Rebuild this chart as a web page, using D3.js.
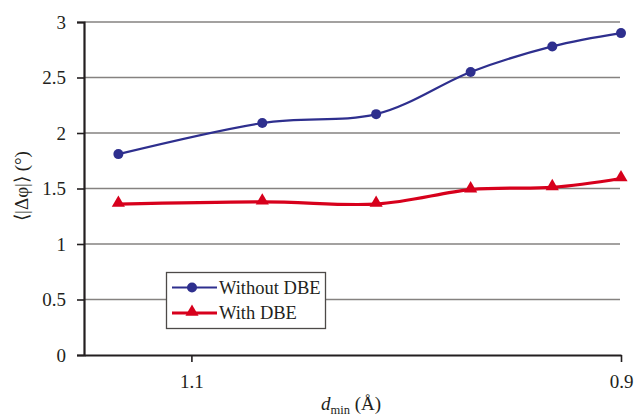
<!DOCTYPE html>
<html>
<head>
<meta charset="utf-8">
<script src="https://cdn.jsdelivr.net/npm/d3@7/dist/d3.min.js"></script>
<style>
  html, body { margin: 0; padding: 0; background: #fff; }
  svg { display: block; }
</style>
</head>
<body>
<svg id="chart" width="637" height="420"></svg>
<script>
// ---- data ----
const dMin = [1.134, 1.067, 1.014, 0.970, 0.932, 0.900];
const withoutDBE = [1.81, 2.09, 2.17, 2.55, 2.78, 2.90];
const withDBE = [1.36, 1.38, 1.36, 1.49, 1.51, 1.59];
const yTicks = [0, 0.5, 1, 1.5, 2, 2.5, 3];
const xTicks = [1.1, 0.9];
const seriesNames = ["Without DBE", "With DBE"];

// ---- layout ----
const FONT = "'Liberation Serif', 'Times New Roman', serif";
const svg = d3.select("#chart");
const plotL = 84, plotR = 621, plotT = 22, plotB = 355;

const x = d3.scaleLinear().domain([1.15, 0.9]).range([plotL, plotR]);
const y = d3.scaleLinear().domain([0, 3]).range([plotB, plotT]);

// gridlines
svg.append("g").selectAll("line").data(yTicks.filter(d => d > 0)).join("line")
  .attr("x1", plotL).attr("x2", plotR - 1)
  .attr("y1", d => y(d)).attr("y2", d => y(d))
  .attr("stroke", "#858280").attr("stroke-width", 1.4);

// y axis
const yAxis = d3.axisLeft(y).tickValues(yTicks).tickSize(7).tickPadding(11)
  .tickFormat(d => String(d));
const gy = svg.append("g").attr("transform", `translate(${plotL},0)`).call(yAxis);
gy.attr("font-family", null);
gy.select(".domain").attr("stroke", "#231f20").attr("stroke-width", 2.2);
gy.selectAll(".tick line").attr("stroke", "#231f20").attr("stroke-width", 1.6);
gy.selectAll(".tick text").style("font-size", "19px").style("fill", "#231f20")
  .style("font-family", FONT).attr("dy", "0.34em");

// x axis
const xAxis = d3.axisBottom(x).tickValues(xTicks).tickSize(7).tickPadding(13)
  .tickSizeOuter(0).tickFormat(d3.format(".1f"));
const gx = svg.append("g").attr("transform", `translate(0,${plotB})`).call(xAxis);
gx.attr("font-family", null);
gx.select(".domain").attr("stroke", "#231f20").attr("stroke-width", 2.2);
gx.selectAll(".tick line").attr("stroke", "#231f20").attr("stroke-width", 1.6);
gx.selectAll(".tick text").style("font-size", "19px").style("fill", "#231f20")
  .style("font-family", FONT);

// axis titles
const xt = svg.append("text").attr("x", 351).attr("y", 410)
  .attr("text-anchor", "middle").style("font-size", "19px")
  .style("font-family", FONT).style("fill", "#231f20");
xt.append("tspan").style("font-style", "italic").text("d");
xt.append("tspan").style("font-size", "12.5px").attr("dy", 4).text("min");
xt.append("tspan").attr("dy", -4).text(" (Å)");

svg.append("text")
  .attr("transform", "translate(28,186) rotate(-90)")
  .attr("text-anchor", "middle").style("font-size", "19px")
  .style("font-family", FONT).style("fill", "#231f20")
  .text("⟨|Δφ|⟩ (°)");

// lines
const colors = ["#2e2f8e", "#d7001c"];
const line = d3.line().curve(d3.curveCatmullRom.alpha(0))
  .x(d => x(d[0])).y(d => y(d[1]));
const s1 = dMin.map((d, i) => [d, withoutDBE[i]]);
const s2 = dMin.map((d, i) => [d, withDBE[i]]);

svg.append("path").datum(s1).attr("d", line).attr("fill", "none")
  .attr("stroke", colors[0]).attr("stroke-width", 2.2);
svg.append("path").datum(s2).attr("d", line).attr("fill", "none")
  .attr("stroke", colors[1]).attr("stroke-width", 3.2);

const tri = d3.symbol().type(d3.symbolTriangle).size(75);

svg.append("g").selectAll("circle").data(s1).join("circle")
  .attr("cx", d => x(d[0])).attr("cy", d => y(d[1])).attr("r", 5)
  .attr("fill", colors[0]);
svg.append("g").selectAll("path").data(s2).join("path")
  .attr("d", tri)
  .attr("transform", d => `translate(${x(d[0])},${y(d[1]) - 1})`)
  .attr("fill", colors[1]);

// legend
const lg = svg.append("g");
lg.append("rect").attr("x", 166.5).attr("y", 272.5).attr("width", 159).attr("height", 56)
  .attr("fill", "#fff").attr("stroke", "#4d4a48").attr("stroke-width", 1.3);
const rowsY = [287.5, 313];
lg.append("line").attr("x1", 172).attr("x2", 217).attr("y1", rowsY[0]).attr("y2", rowsY[0])
  .attr("stroke", colors[0]).attr("stroke-width", 2.2);
lg.append("circle").attr("cx", 192).attr("cy", rowsY[0]).attr("r", 5).attr("fill", colors[0]);
lg.append("line").attr("x1", 172).attr("x2", 217).attr("y1", rowsY[1]).attr("y2", rowsY[1])
  .attr("stroke", colors[1]).attr("stroke-width", 3.2);
lg.append("path").attr("d", tri).attr("transform", `translate(192,${rowsY[1] - 1})`).attr("fill", colors[1]);
lg.selectAll("text").data(seriesNames).join("text")
  .attr("x", 219).attr("y", (d, i) => rowsY[i]).attr("dy", "0.34em")
  .style("font-size", "18.5px").style("font-family", FONT).style("fill", "#231f20")
  .text(d => d);
</script>
</body>
</html>
